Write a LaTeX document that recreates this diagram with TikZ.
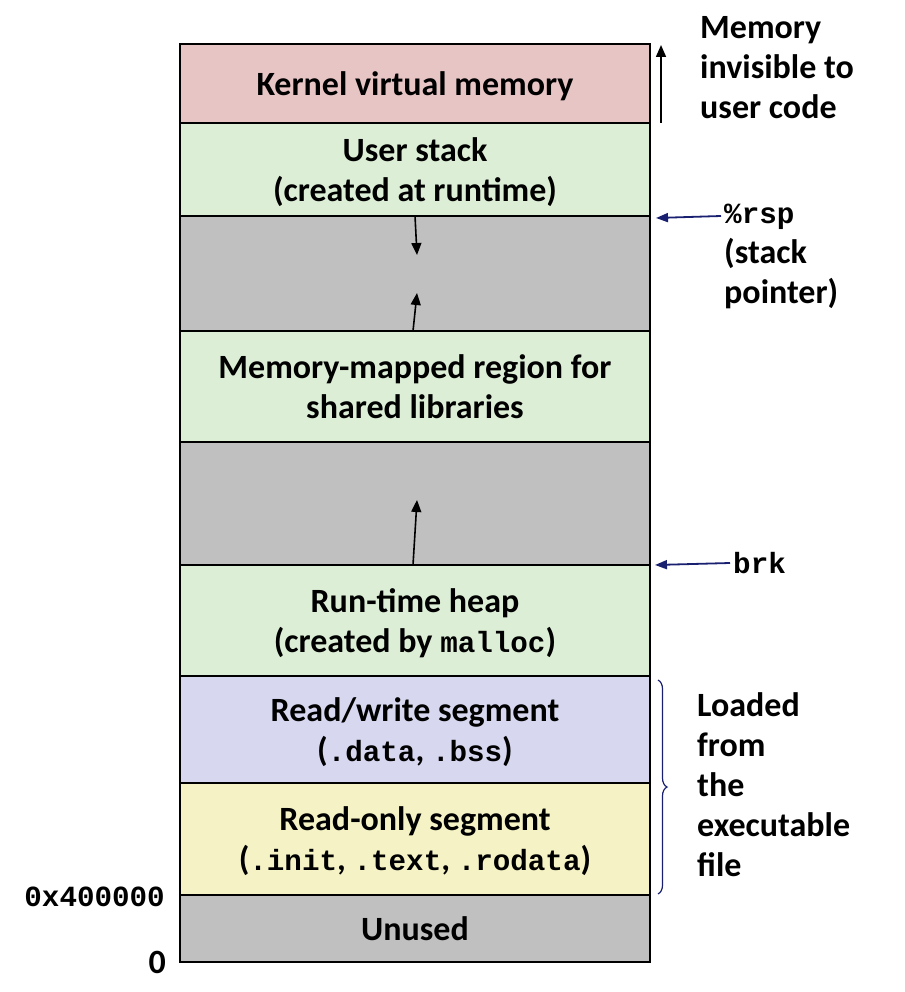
\documentclass[tikz,border=0pt]{standalone}
\usepackage{fontspec}
\setmainfont{Carlito}
\newfontfamily\codefont[Scale=0.86]{Liberation Mono}
\usetikzlibrary{arrows.meta,decorations.pathreplacing}
\definecolor{kernelc}{HTML}{E8C5C5}
\definecolor{userc}{HTML}{DCEFD6}
\definecolor{gapc}{HTML}{C0C0C0}
\definecolor{rwc}{HTML}{D7D7F0}
\definecolor{roc}{HTML}{F5F3C5}
\definecolor{navy}{HTML}{1A2070}
\tikzset{
  seg/.style={draw=black, line width=2pt, minimum width=470pt, anchor=north west,
    inner sep=0pt, outer sep=0pt, text depth=0pt, align=center,
    font=\bfseries\fontsize{34}{40}\selectfont},
  lab/.style={align=left, inner sep=0pt, font=\bfseries\fontsize{34}{40}\selectfont},
  growarr/.style={draw=black, line width=1.6pt, -{Triangle[length=12pt,width=10pt]}},
  ptr/.style={draw=navy, line width=1.8pt, -{Triangle[length=12pt,width=9pt]}},
}

\begin{document}
\begin{tikzpicture}[x=1pt,y=-1pt]
  \useasboundingbox (0,0) rectangle (904,992);
  % address space, top to bottom
  \node[seg, fill=kernelc, minimum height=79pt] (kernel) at (180,44) {Kernel virtual memory};
  \node[seg, fill=userc, minimum height=93pt] (stack) at (kernel.south west) {User stack\\(created at runtime)};
  \node[seg, fill=gapc, minimum height=115pt] (gap1) at (stack.south west) {};
  \node[seg, fill=userc, minimum height=111pt] (mmap) at (gap1.south west) {Memory-mapped region for\\shared libraries};
  \node[seg, fill=gapc, minimum height=123pt] (gap2) at (mmap.south west) {};
  \node[seg, fill=userc, minimum height=111pt] (heap) at (gap2.south west) {Run-time heap\\(created by {\codefont malloc})};
  \node[seg, fill=rwc, minimum height=107pt] (rw) at (heap.south west) {Read/write segment\\({\codefont .data}, {\codefont .bss})};
  \node[seg, fill=roc, minimum height=112pt] (ro) at (rw.south west) {Read-only segment\\({\codefont .init}, {\codefont .text}, {\codefont .rodata})};
  \node[seg, fill=gapc, minimum height=67pt] (unused) at (ro.south west) {Unused};

  % growth arrows
  \coordinate (stacktip) at ([xshift=2pt,yshift=-39pt]gap1.north);
  \coordinate (mmaptip) at ([xshift=2pt,yshift=38pt]gap1.south);
  \coordinate (heaptip) at ([xshift=2pt,yshift=65pt]gap2.south);
  \draw[growarr] (gap1.north) -- (stacktip);
  \draw[growarr] ([xshift=-2pt]gap1.south) -- (mmaptip);
  \draw[growarr] ([xshift=-2pt]gap2.south) -- (heaptip);

  % labels on the right
  \coordinate (kbot) at (661,123);
  \coordinate (ktop) at (661,45);
  \draw[growarr] (kbot) -- (ktop);
  \node[lab, anchor=west] (invis) at (700,68) {Memory\\invisible to\\user code};
  \node[lab, anchor=west] (rsp) at (724,256) {{\codefont\%rsp}\\(stack\\pointer)};
  \node[lab, anchor=west] (brk) at (733,563) {\codefont brk};
  \coordinate (rsptip) at (656,218);
  \coordinate (brktip) at (655,565);
  \draw[ptr] ([xshift=-3pt]rsp.west |- 216,216) -- (rsptip);
  \draw[ptr] ([xshift=-3pt]brk.west) -- (brktip);
  \coordinate (brtop) at (658,680);
  \coordinate (brbot) at (658,894);
  \draw[navy, line width=1.2pt, decorate, decoration={brace, amplitude=9pt}] (brtop) -- (brbot);
  \node[lab, anchor=west] (loaded) at (697,785) {Loaded\\from\\the\\executable\\file};

  % addresses on the left
  \node[lab, anchor=east] (addr) at (165,897) {\codefont 0x400000};
  \node[lab, anchor=east] (zero) at (166,962) {0};
\end{tikzpicture}
\end{document}
